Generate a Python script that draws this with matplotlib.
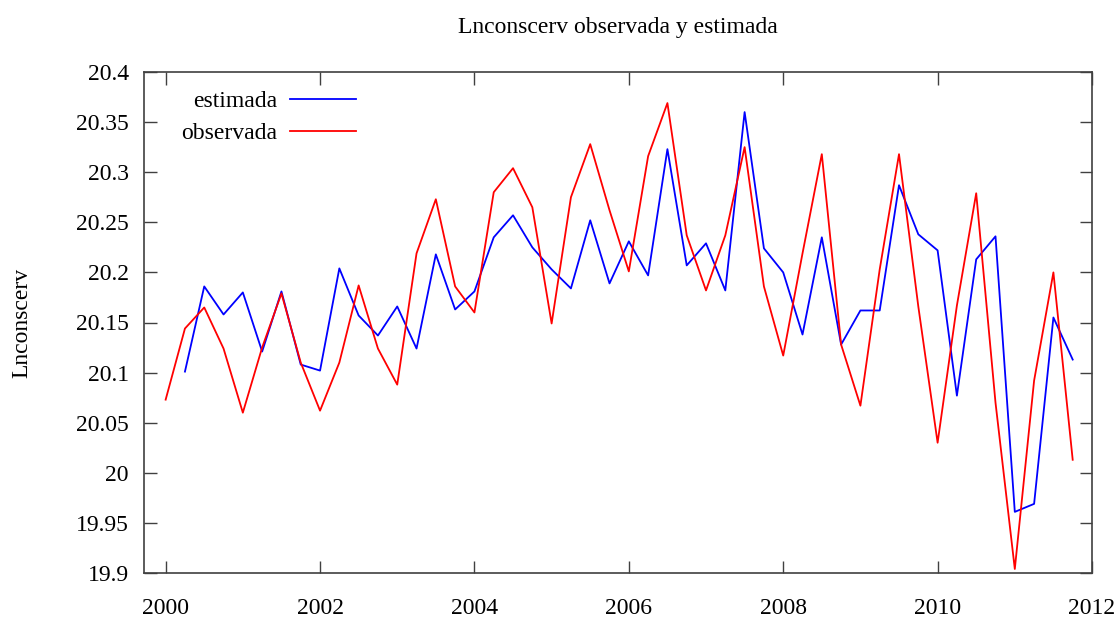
import numpy as np
import matplotlib
matplotlib.use("Agg")
import matplotlib.pyplot as plt

##################### datos (trimestrales)

start_obs = 2000.0
start_est = 2000.25

observada = [20.073, 20.144, 20.165, 20.124, 20.060, 20.125, 20.179, 20.110,
             20.062, 20.110, 20.187, 20.124, 20.088, 20.219, 20.273, 20.186,
             20.160, 20.280, 20.304, 20.265, 20.149, 20.275, 20.328, 20.262,
             20.201, 20.316, 20.369, 20.237, 20.182, 20.237, 20.325, 20.186,
             20.117, 20.219, 20.318, 20.128, 20.067, 20.203, 20.318, 20.166,
             20.030, 20.167, 20.279, 20.070, 19.904, 20.092, 20.200, 20.013]

estimada = [20.101, 20.186, 20.158, 20.180, 20.121, 20.181, 20.108,
            20.102, 20.204, 20.157, 20.137, 20.166, 20.124, 20.218, 20.163,
            20.181, 20.235, 20.257, 20.225, 20.203, 20.184, 20.252, 20.189,
            20.231, 20.197, 20.323, 20.207, 20.229, 20.182, 20.360, 20.224,
            20.200, 20.138, 20.235, 20.128, 20.162, 20.162, 20.287, 20.238,
            20.222, 20.077, 20.213, 20.236, 19.961, 19.969, 20.155, 20.113]

x_ticks = [2000, 2002, 2004, 2006, 2008, 2010, 2012]
y_ticks = [19.9, 19.95, 20, 20.05, 20.1, 20.15, 20.2, 20.25, 20.3, 20.35, 20.4]
y_labels = ["19.9", "19.95", "20", "20.05", "20.1", "20.15", "20.2",
            "20.25", "20.3", "20.35", "20.4"]

t_obs = start_obs + 0.25 * np.arange(len(observada))
t_est = start_est + 0.25 * np.arange(len(estimada))

##################### grafico

plt.rcParams['font.family'] = ['Liberation Serif', 'DejaVu Serif']
fs = 17

fig = plt.figure(figsize=(11.2, 6.25), dpi=100)
ax = fig.add_axes([0.1286, 0.0832, 0.8464, 0.8016])

ax.plot(t_est, estimada, color='#0000ff', lw=1.3, label='estimada')
ax.plot(t_obs, observada, color='#ff0000', lw=1.3, label='observada')

ax.set_xlim(1999.72, 2012.0)
ax.set_ylim(19.9, 20.4)
ax.set_xticks(x_ticks)
ax.set_yticks(y_ticks)
ax.set_yticklabels(y_labels)

ax.tick_params(direction='in', length=9, width=1, top=True, right=True,
               labelsize=fs, colors='#404040', labelcolor='black')
ax.tick_params(axis='x', pad=18)
ax.tick_params(axis='y', pad=11)
for sp in ax.spines.values():
    sp.set_color('#404040')
    sp.set_linewidth(1.2)

ax.set_title("Lnconscerv observada y estimada", fontsize=fs, pad=28)
ax.set_ylabel("Lnconscerv", fontsize=fs, labelpad=31)

leg = ax.legend(loc='upper left', frameon=False, markerfirst=False,
                fontsize=fs, handlelength=2.8, borderaxespad=0.0,
                handletextpad=0.55, labelspacing=0.42,
                bbox_to_anchor=(0.029, 0.981))
for txt in leg.get_texts():
    txt.set_ha('right')

fig.savefig("out.png", dpi=100)
